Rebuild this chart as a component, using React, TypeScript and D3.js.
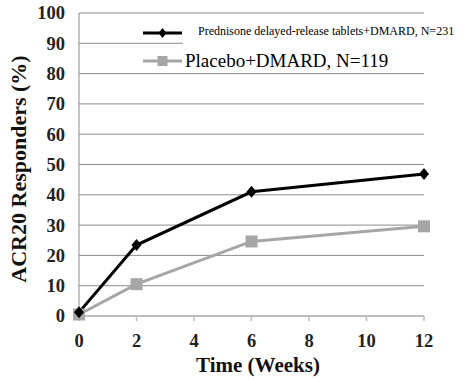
import React from "react";
import * as d3 from "d3";

const weeks = [0, 2, 6, 12];
const prednisone = [1.2, 23.4, 41, 46.9];
const placebo = [0.5, 10.5, 24.6, 29.6];
const yTicks = [0, 10, 20, 30, 40, 50, 60, 70, 80, 90, 100];
const xTicks = [0, 2, 4, 6, 8, 10, 12];
const seriesNames = ["Prednisone delayed-release tablets+DMARD, N=231", "Placebo+DMARD, N=119"];

export default function App() {
  const W = 476, H = 380;
  const x = d3.scaleLinear().domain([0, 12]).range([79, 424]);
  const y = d3.scaleLinear().domain([0, 100]).range([316, 13]);
  const line = d3.line<number>().x((_, i) => x(weeks[i])).y(d => y(d));
  const font = "'Liberation Serif', 'Times New Roman', serif";
  return (
    <svg width={W} height={H} style={{ position: "absolute", left: 0, top: 0, background: "#fff" }}>
      {yTicks.filter(t => t > 0).map(t => (
        <line key={t} x1={x(0)} x2={x(12)} y1={y(t)} y2={y(t)} stroke="#8c8c8c" strokeWidth={1} />
      ))}
      <line x1={x(0)} x2={x(0)} y1={y(0)} y2={y(100)} stroke="#8c8c8c" strokeWidth={1} />
      <line x1={x(0)} x2={x(12)} y1={y(0)} y2={y(0)} stroke="#bdbdbd" strokeWidth={2} />
      {xTicks.map(t => (
        <line key={t} x1={x(t)} x2={x(t)} y1={y(0)} y2={y(0) + 5} stroke="#bdbdbd" strokeWidth={1.5} />
      ))}
      {yTicks.map(t => (
        <text key={t} x={65} y={y(t)} dy="0.35em" textAnchor="end" fontFamily={font} fontWeight="bold" fontSize={18.5} fill="#222">{t}</text>
      ))}
      {xTicks.map(t => (
        <text key={t} x={x(t)} y={341} dy="0.35em" textAnchor="middle" fontFamily={font} fontWeight="bold" fontSize={18.5} fill="#222">{t}</text>
      ))}
      <text x={258} y={365} dy="0.35em" textAnchor="middle" fontFamily={font} fontWeight="bold" fontSize={21} fill="#111">Time (Weeks)</text>
      <text transform={`translate(18,169) rotate(-90)`} dy="0.35em" textAnchor="middle" fontFamily={font} fontWeight="bold" fontSize={22} fill="#111">ACR20 Responders (%)</text>
      <rect x={183} y={22} width={250} height={46} fill="#fff" />
      <path d={line(placebo) || ""} fill="none" stroke="#a6a6a6" strokeWidth={3} />
      <path d={line(prednisone) || ""} fill="none" stroke="#000" strokeWidth={3} />
      {placebo.map((v, i) => (
        <rect key={i} x={x(weeks[i]) - 6} y={y(v) - 6} width={12} height={12} fill="#a6a6a6" />
      ))}
      {prednisone.map((v, i) => (
        <path key={i} d={`M${x(weeks[i])},${y(v) - 6}L${x(weeks[i]) + 5},${y(v)}L${x(weeks[i])},${y(v) + 6}L${x(weeks[i]) - 5},${y(v)}Z`} fill="#000" />
      ))}
      <line x1={143} x2={182} y1={33} y2={33} stroke="#000" strokeWidth={3} />
      <path d="M162.5,28L166.5,33L162.5,38L158.5,33Z" fill="#000" />
      <text x={198} y={31} dy="0.35em" fontFamily={font} fontSize={12} fill="#000">{seriesNames[0]}</text>
      <line x1={143} x2={182} y1={61} y2={61} stroke="#a6a6a6" strokeWidth={3} />
      <rect x={157.5} y={56} width={10} height={10} fill="#a6a6a6" />
      <text x={185} y={60} dy="0.35em" fontFamily={font} fontSize={19} fill="#000">{seriesNames[1]}</text>
    </svg>
  );
}
